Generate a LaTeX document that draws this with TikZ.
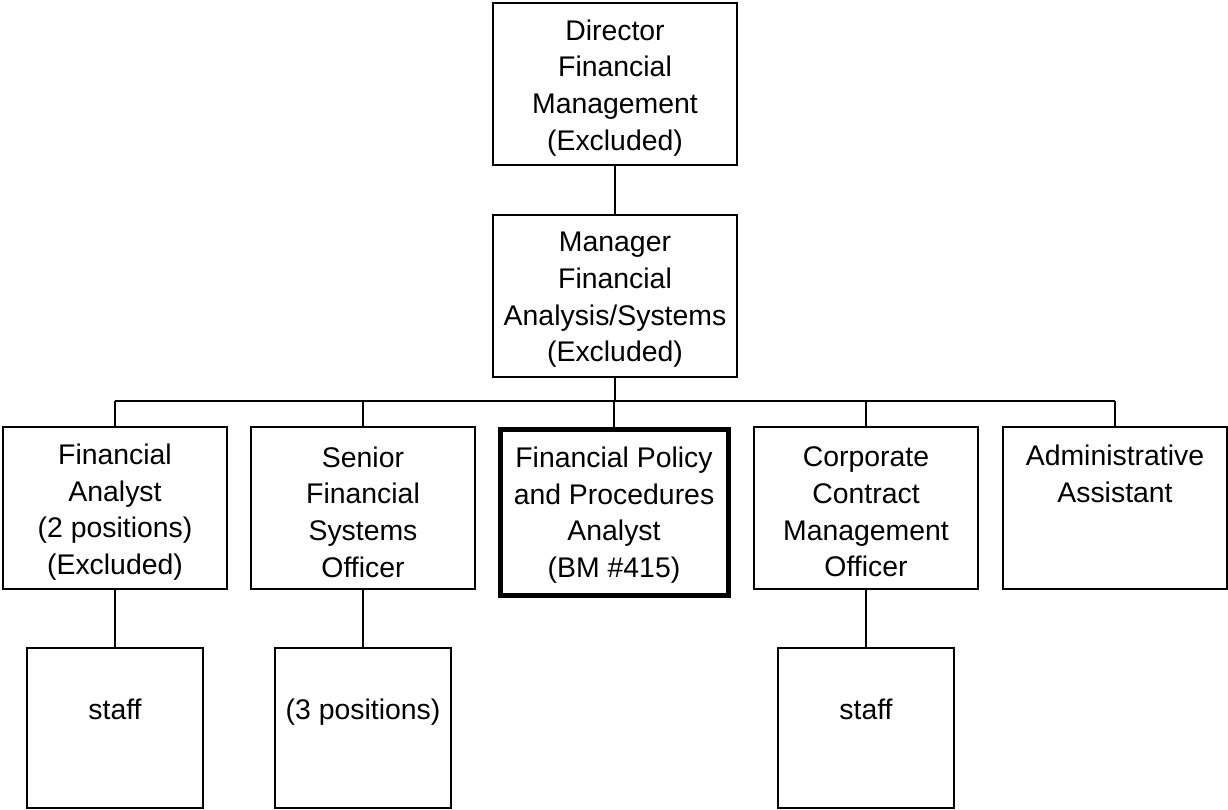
\documentclass[tikz,border=0pt]{standalone}
\usepackage{fontspec}
\setmainfont{Liberation Sans}
\begin{document}
\begin{tikzpicture}[x=1pt,y=-1pt,
  box/.style={draw=black,line width=2pt,fill=white,inner sep=0pt,
    minimum width=224pt,minimum height=162pt},
  wide/.style={box,minimum width=244pt},
  focus/.style={box,line width=5pt,minimum width=228pt,minimum height=166pt},
  small/.style={box,minimum width=176pt,minimum height=160pt},
  txt/.style={inner sep=0pt,align=center},
  conn/.style={line width=2pt}]
\useasboundingbox (0,0) rectangle (1228,810);
\fontsize{28.4}{36.7}\selectfont
% top levels
\node[wide] (dir) at (615,84) {};
\node[txt] (dirt) at (615,88) {Director\\Financial\\Management\\(Excluded)};
\node[wide] (mgr) at (615,296) {};
\node[txt] (mgrt) at (615,300) {Manager\\Financial\\Analysis/Systems\\(Excluded)};
% second row
\node[box] (fa) at (115,508) {};
\node[txt] (fat) at (115,512) {Financial\\Analyst\\(2 positions)\\(Excluded)};
\node[box] (sfs) at (363,508) {};
\node[txt] (sfst) at (363,512) {Senior\\Financial\\Systems\\Officer};
\node[focus] (fpp) at (614,512) {};
\node[txt] (fppt) at (614,515) {Financial Policy\\and Procedures\\Analyst\\(BM \#415)};
\node[box] (ccm) at (866,508) {};
\node[txt] (ccmt) at (866,512) {Corporate\\Contract\\Management\\Officer};
\node[box] (adm) at (1115,508) {};
\node[txt] (admt) at (1115,474) {Administrative\\Assistant};
% bottom row
\node[small] (st1) at (115,728) {};
\node[txt,anchor=base] (st1t) at (115,719) {staff};
\node[small] (pos3) at (363,728) {};
\node[txt,anchor=base] (pos3t) at (363,719) {(3 positions)};
\node[small] (st2) at (866,728) {};
\node[txt,anchor=base] (st2t) at (866,719) {staff};
% connectors
\coordinate (busL) at (115,401);
\coordinate (busR) at (1115,401);
\draw[conn] (dir.south) -- (mgr.north);
\draw[conn] (mgr.south) -- (mgr.south |- busL);
\draw[conn] (busL) -- (busR);
\draw[conn] (busL) -- (fa.north);
\draw[conn] (sfs.north |- busL) -- (sfs.north);
\draw[conn] (fpp.north |- busL) -- (fpp.north);
\draw[conn] (ccm.north |- busL) -- (ccm.north);
\draw[conn] (busR) -- (adm.north);
\draw[conn] (fa.south) -- (st1.north);
\draw[conn] (sfs.south) -- (pos3.north);
\draw[conn] (ccm.south) -- (st2.north);
\end{tikzpicture}
\end{document}
